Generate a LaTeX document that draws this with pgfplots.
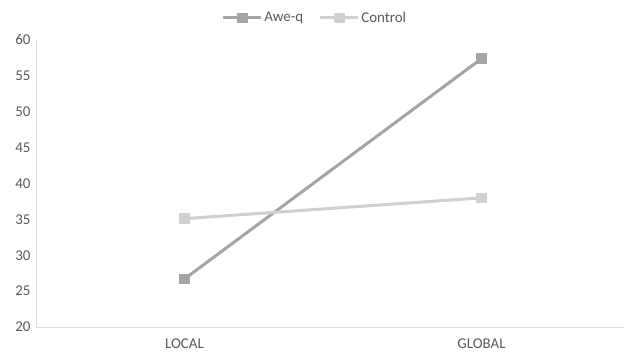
\documentclass[border=0pt]{standalone}
\usepackage{pgfplots}
\pgfplotsset{compat=1.18}
\usepackage{fontspec}
\setmainfont{Carlito}
\definecolor{aweq}{HTML}{A5A5A5}
\definecolor{ctrl}{HTML}{D0D0D0}
\definecolor{txt}{HTML}{595959}
\definecolor{axl}{HTML}{D9D9D9}
\begin{document}
\begin{tikzpicture}[x=1bp,y=1bp]
\useasboundingbox (0,0) rectangle (624,358);
\begin{axis}[
  at={(36bp,31bp)}, anchor=south west,
  scale only axis, width=588bp, height=287bp,
  xmin=-0.5, xmax=1.48, ymin=20, ymax=60,
  ytick={20,25,...,60},
  xtick={0,1}, xticklabels={LOCAL,GLOBAL},
  axis x line*=bottom, axis y line*=left,
  axis line style={draw=axl, line width=0.75bp},
  x axis line style={-}, y axis line style={-},
  major tick length=0pt,
  /pgf/number format/assume math mode=true,
  tick label style={font=\fontsize{15}{18}\selectfont, text=txt},
  yticklabel style={xshift=-2bp},
  xticklabel style={yshift=-8bp},
  legend style={at={(0.474,1.077)}, anchor=center, draw=none, fill=none,
    font=\fontsize{15}{18}\selectfont, text=txt, legend columns=2,
    nodes={inner sep=1.5bp},
    /tikz/every even column/.append style={column sep=14bp}},
  legend image code/.code={\draw[mark repeat=2,mark phase=2] plot coordinates {(0bp,0bp) (19bp,0bp) (38bp,0bp)};},
  clip=false,
]
\addplot[color=aweq, line width=3bp, mark=square*, mark size=3.8bp, mark options={solid}] coordinates {(0,26.7) (1,57.4)};
\addlegendentry{Awe-q}
\addplot[color=ctrl, line width=3bp, mark=square*, mark size=3.8bp, mark options={solid}] coordinates {(0,35.1) (1,38.0)};
\addlegendentry{Control}
\end{axis}
\end{tikzpicture}
\end{document}
